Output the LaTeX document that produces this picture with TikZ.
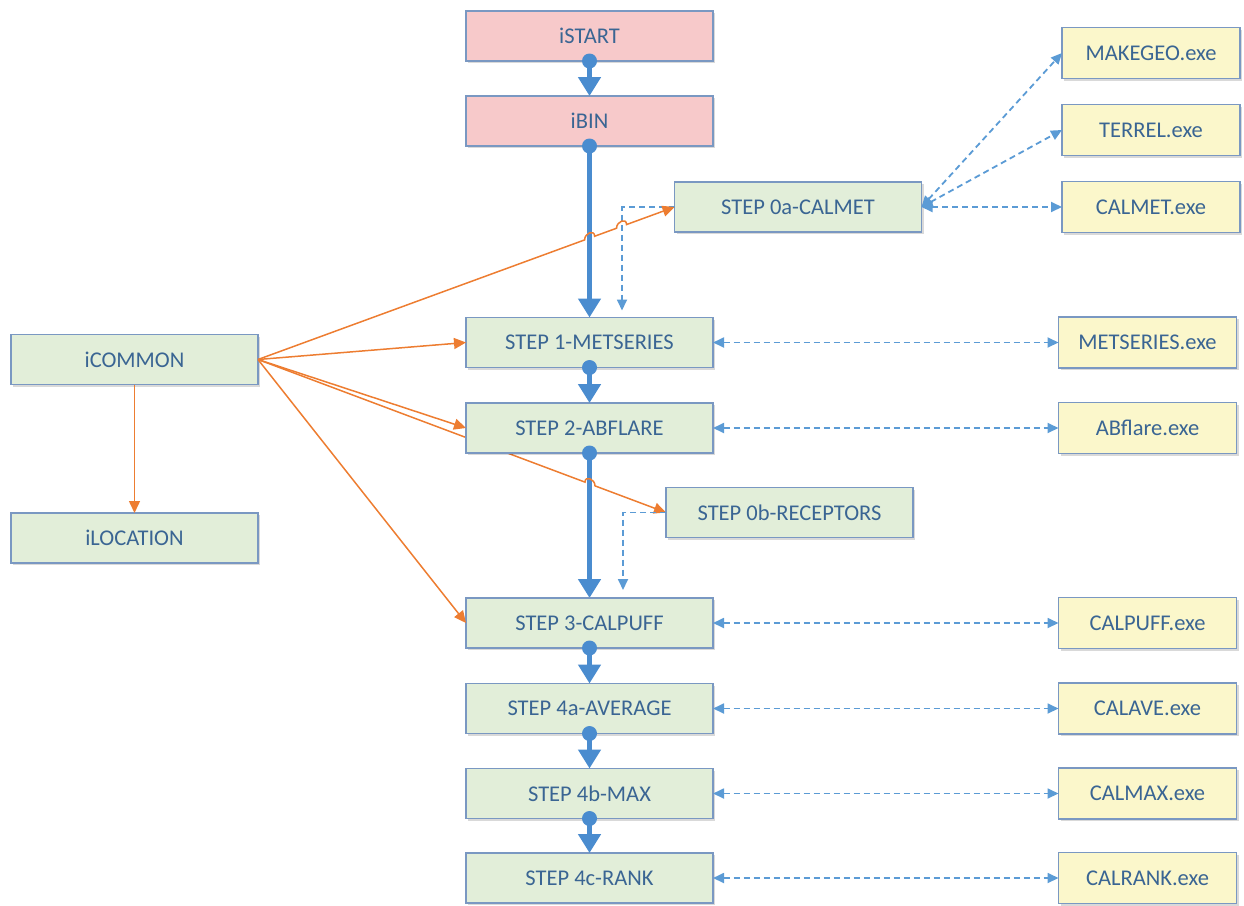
\documentclass[tikz,border=0pt]{standalone}
\usepackage{fontspec}
\setmainfont{Carlito}
\usetikzlibrary{arrows.meta,shadows,calc,backgrounds}
\definecolor{txt}{HTML}{3A6593}
\definecolor{bord}{HTML}{7A98C2}
\definecolor{pinkf}{HTML}{F7C9CA}
\definecolor{greenf}{HTML}{E2EED9}
\definecolor{yellf}{HTML}{FBF7CB}
\definecolor{flowc}{HTML}{4A8CCF}
\definecolor{dashc}{HTML}{5B9BD5}
\definecolor{orng}{HTML}{ED7D31}
\begin{document}
\begin{tikzpicture}[x=1pt,y=-1pt,
  box/.style={draw=bord, line width=1.5pt, text=txt, font=\fontsize{22.5}{24}\selectfont,
    minimum height=50pt, inner sep=0pt, outer sep=0pt,
    drop shadow={shadow xshift=2pt, shadow yshift=-2pt, opacity=0.15, fill=black}},
  pinkbox/.style={box, fill=pinkf, minimum width=247pt},
  greenbox/.style={box, fill=greenf, minimum width=247pt},
  exebox/.style={box, fill=yellf, minimum width=178pt, minimum height=51pt},
  flow/.style={draw=flowc, line width=5pt, -{Triangle[length=19pt,width=22pt]}},
  flowdot/.style={fill=flowc},
  dsh/.style={draw=dashc, line width=1.8pt, dash pattern=on 6pt off 4pt},
  dshone/.style={dsh, -{Triangle[length=11pt,width=10pt]}},
  dshtwo/.style={dsh, {Triangle[length=11pt,width=10pt]}-{Triangle[length=11pt,width=10pt]}},
  org/.style={draw=orng, line width=1.5pt, -{Triangle[length=12pt,width=11pt]}}
]
\useasboundingbox (0,0) rectangle (1244,905);

% main column
\node[pinkbox] (istart) at (589.5,36) {iSTART};
\node[pinkbox] (ibin) at (589.5,121) {iBIN};
\node[greenbox] (s0a) at (798,207) {STEP 0a-CALMET};
\node[greenbox] (s1) at (589.5,342.5) {STEP 1-METSERIES};
\node[greenbox] (s2) at (589.5,428) {STEP 2-ABFLARE};
\node[greenbox] (s0b) at (789.5,512.5) {STEP 0b-RECEPTORS};
\node[greenbox] (s3) at (589.5,623) {STEP 3-CALPUFF};
\node[greenbox] (s4a) at (589.5,708.5) {STEP 4a-AVERAGE};
\node[greenbox] (s4b) at (589.5,793.5) {STEP 4b-MAX};
\node[greenbox] (s4c) at (589.5,878) {STEP 4c-RANK};
% left
\node[greenbox] (icommon) at (134.5,359.5) {iCOMMON};
\node[greenbox] (ilocation) at (134.5,538) {iLOCATION};
% exe boxes
\node[exebox] (makegeo) at (1151,53) {MAKEGEO.exe};
\node[exebox] (terrel) at (1151,130) {TERREL.exe};
\node[exebox] (calmetexe) at (1151,207) {CALMET.exe};
\node[exebox] (metexe) at (1147.5,342.5) {METSERIES.exe};
\node[exebox] (abexe) at (1147.5,428) {ABflare.exe};
\node[exebox] (puffexe) at (1147.5,623) {CALPUFF.exe};
\node[exebox] (aveexe) at (1147.5,708.5) {CALAVE.exe};
\node[exebox] (maxexe) at (1147.5,793.5) {CALMAX.exe};
\node[exebox] (rankexe) at (1147.5,878) {CALRANK.exe};

% background: flow line s2->s3 and orange line to receptors (passes behind STEP 2)
\begin{scope}[on background layer]
  \draw[flow] (s2.south) -- (s3.north);
  \draw[org] (icommon.east) -- ($(icommon.east)!0.8015!(s0b.west)$)
     .. controls +(0,-7) and +(0,-7) .. ($(icommon.east)!0.8260!(s0b.west)$) -- (s0b.west);
\end{scope}

% thick flow connectors
\draw[flow] (istart.south) -- (ibin.north);
\draw[flow] (ibin.south) -- (s1.north);
\draw[flow] (s1.south) -- (s2.north);
\draw[flow] (s3.south) -- (s4a.north);
\draw[flow] (s4a.south) -- (s4b.north);
\draw[flow] (s4b.south) -- (s4c.north);

% dashed from step 0 boxes down
\coordinate (d1) at (622,207);
\coordinate (d2) at (623,512.5);
\draw[dshone, shorten >=7pt] (s0a.west) -- (d1) -- (d1 |- s1.north);
\draw[dshone, shorten >=8pt] (s0b.west) -- (d2) -- (d2 |- s3.north);

% orange connectors
\draw[org] (icommon.east) -- ($(icommon.east)!0.7842!(s0a.west)$)
   .. controls +(0,-7) and +(0,-7) .. ($(icommon.east)!0.8082!(s0a.west)$)
   -- ($(icommon.east)!0.8609!(s0a.west)$)
   .. controls +(0,-7) and +(0,-7) .. ($(icommon.east)!0.8849!(s0a.west)$)
   -- (s0a.west);
\draw[org] (icommon.east) -- (s1.west);
\draw[org] (icommon.east) -- (s2.west);
\draw[org] (icommon.east) -- (s3.west);
\draw[org] (icommon.south) -- (ilocation.north);

% dashed double arrows to exe
\draw[dshtwo] (s0a.east) -- (makegeo.west);
\draw[dshtwo] (s0a.east) -- (terrel.west);
\draw[dshtwo] (s0a.east) -- (calmetexe.west);
\draw[dshtwo] (s1.east) -- (metexe.west);
\draw[dshtwo] (s2.east) -- (abexe.west);
\draw[dshtwo] (s3.east) -- (puffexe.west);
\draw[dshtwo] (s4a.east) -- (aveexe.west);
\draw[dshtwo] (s4b.east) -- (maxexe.west);
\draw[dshtwo] (s4c.east) -- (rankexe.west);

% dots
\foreach \n in {istart,ibin,s1,s2,s3,s4a,s4b}
  \fill[flowdot] (\n.south) circle[radius=7.5pt];
\end{tikzpicture}
\end{document}
